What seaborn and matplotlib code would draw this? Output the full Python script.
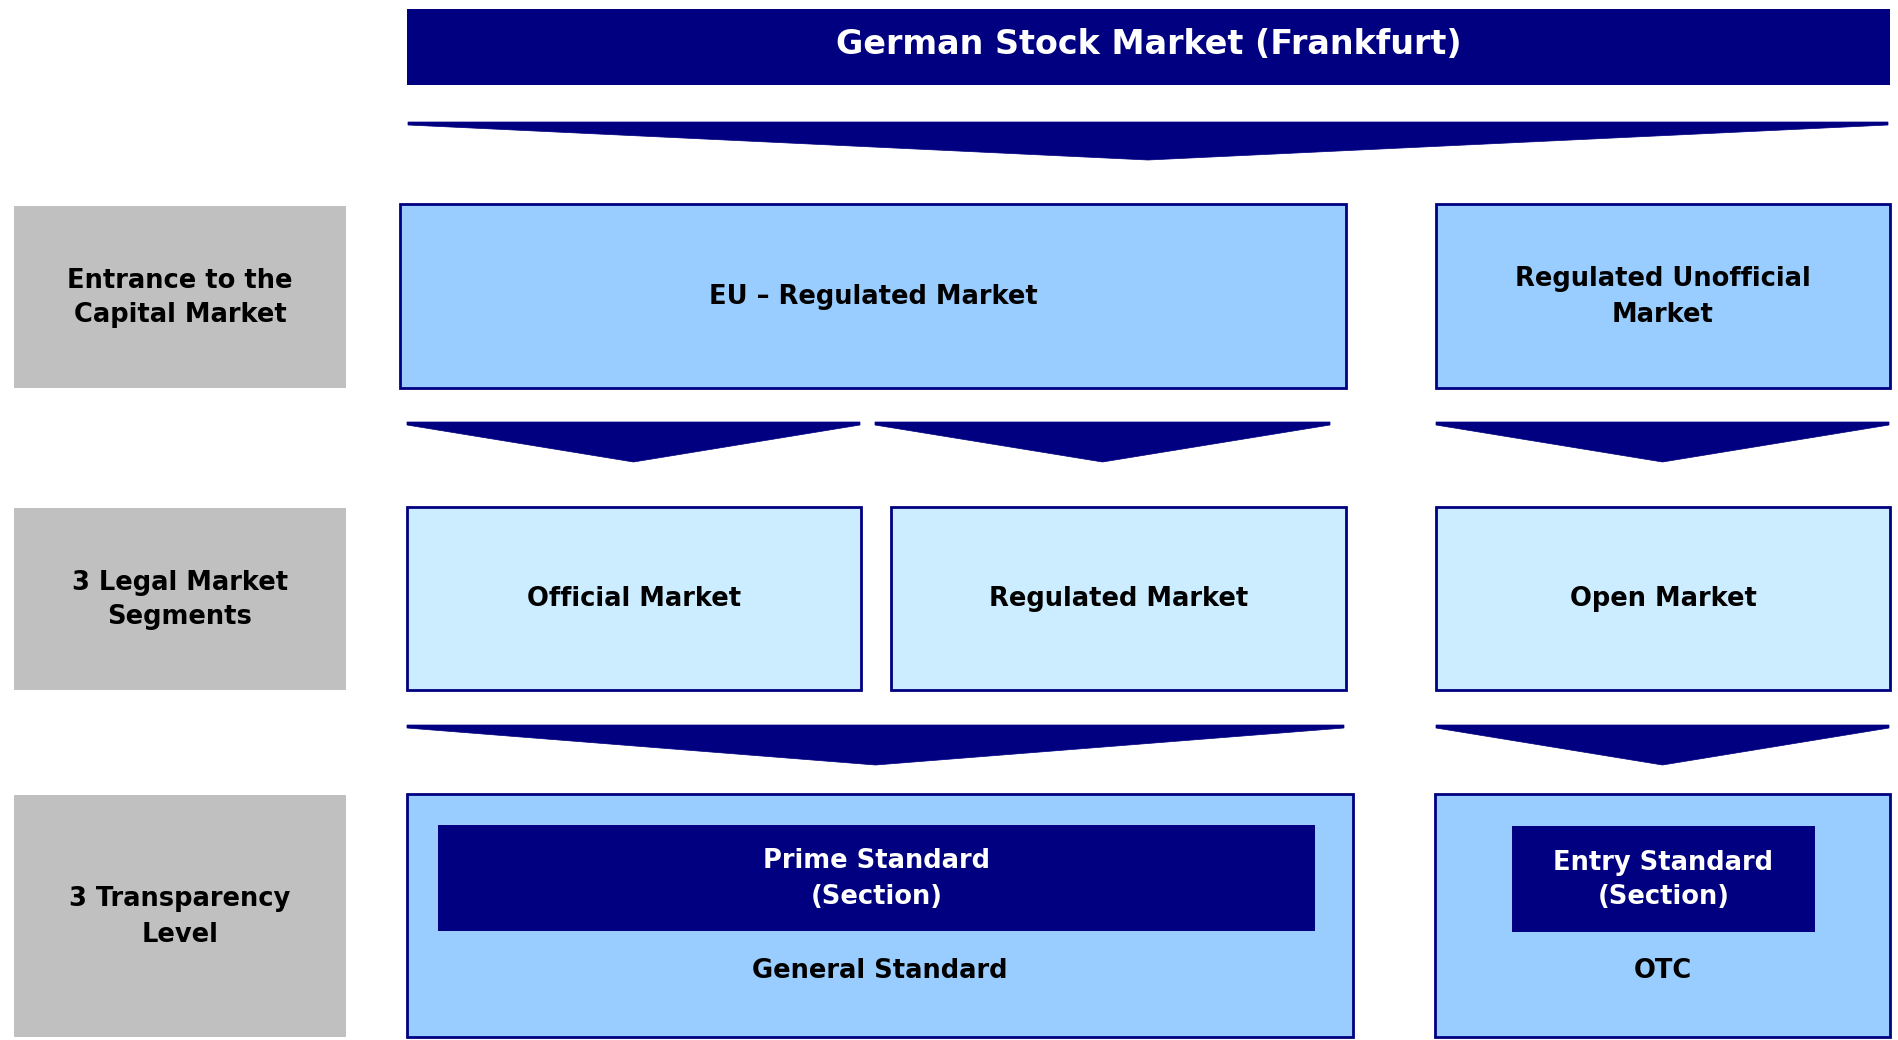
import matplotlib
matplotlib.use("Agg")
import matplotlib.pyplot as plt
from matplotlib.patches import Rectangle, Polygon
import seaborn as sns

# texts of the diagram
title = "German Stock Market (Frankfurt)"
level_labels = ["Entrance to the\nCapital Market", "3 Legal Market\nSegments", "3 Transparency\nLevel"]
entrance_labels = ["EU \u2013 Regulated Market", "Regulated Unofficial\nMarket"]
segment_labels = ["Official Market", "Regulated Market", "Open Market"]
standard_labels = ["General Standard", "OTC"]
section_labels = ["Prime Standard\n(Section)", "Entry Standard\n(Section)"]

# layout in pixels (x0, x1, y0, y1)
level_boxes = [(14, 346, 206, 388), (14, 346, 508, 690), (14, 346, 795, 1037)]
entrance_boxes = [(400, 1346, 204, 388), (1436, 1890, 204, 388)]
segment_boxes = [(407, 861, 507, 690), (891, 1346, 507, 690), (1436, 1890, 507, 690)]
standard_boxes = [(407, 1353, 794, 1037), (1435, 1890, 794, 1037)]
section_boxes = [(438, 1315, 825, 931), (1512, 1815, 826, 932)]
# arrows (x0, x1, top, tip_y)
arrows = [(408, 1888, 122, 160),
          (407, 860, 422, 462), (875, 1330, 422, 462), (1436, 1889, 422, 462),
          (407, 1344, 725, 765), (1436, 1889, 725, 765)]

NAVY = "#000080"
BLUE = "#99CCFF"
PALE = "#CCECFF"
GREY = "#C0C0C0"

sns.set_theme(style="white")
plt.rcParams['font.family'] = ['DejaVu Sans']

fig = plt.figure(figsize=(18.99, 10.40), dpi=100)
ax = fig.add_axes([0, 0, 1, 1])
ax.set_xlim(0, 1899)
ax.set_ylim(1040, 0)
ax.axis("off")


def box(b, face, edge=None, text=None, color="black", size=18.5, ty=None):
    x0, x1, y0, y1 = b
    ax.add_patch(Rectangle((x0, y0), x1 - x0, y1 - y0, facecolor=face,
                           edgecolor=edge if edge else face,
                           linewidth=2.0 if edge else 0))
    if text:
        ax.text((x0 + x1) / 2, ty if ty else (y0 + y1) / 2 + 1, text, ha="center", va="center",
                color=color, fontsize=size, fontweight="bold", linespacing=1.45)


def arrow(a):
    x0, x1, top, tip = a
    pts = [(x0, top), (x1, top), (x1, top + 3), ((x0 + x1) / 2, tip), (x0, top + 3)]
    ax.add_patch(Polygon(pts, closed=True, facecolor=NAVY, edgecolor=NAVY, linewidth=0.5))


box((407, 1890, 9, 85), NAVY, text=title, color="white", size=24, ty=45)
for a in arrows:
    arrow(a)
for b, t in zip(level_boxes, level_labels):
    box(b, GREY, text=t)
for b, t in zip(entrance_boxes, entrance_labels):
    box(b, BLUE, NAVY, t)
for b, t in zip(segment_boxes, segment_labels):
    box(b, PALE, NAVY, t)
for b, t in zip(standard_boxes, standard_labels):
    box(b, BLUE, NAVY, t, ty=971)
for b, t in zip(section_boxes, section_labels):
    box(b, NAVY, text=t, color="white")

fig.savefig("out.png", dpi=100)
